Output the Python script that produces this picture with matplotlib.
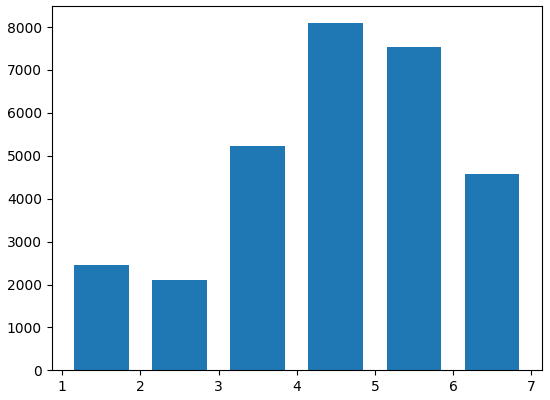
import matplotlib
matplotlib.use("Agg")
import matplotlib.pyplot as plt

bin_edges = [1, 2, 3, 4, 5, 6, 7]
counts = [2465, 2116, 5223, 8095, 7526, 4572]

fig, ax = plt.subplots(figsize=(5.5, 4), dpi=100)
ax.hist(bin_edges[:-1], bins=bin_edges, weights=counts, rwidth=0.7, color="#1f77b4")
fig.subplots_adjust(left=0.094, right=0.985, top=0.986, bottom=0.074)
fig.savefig("out.png")
